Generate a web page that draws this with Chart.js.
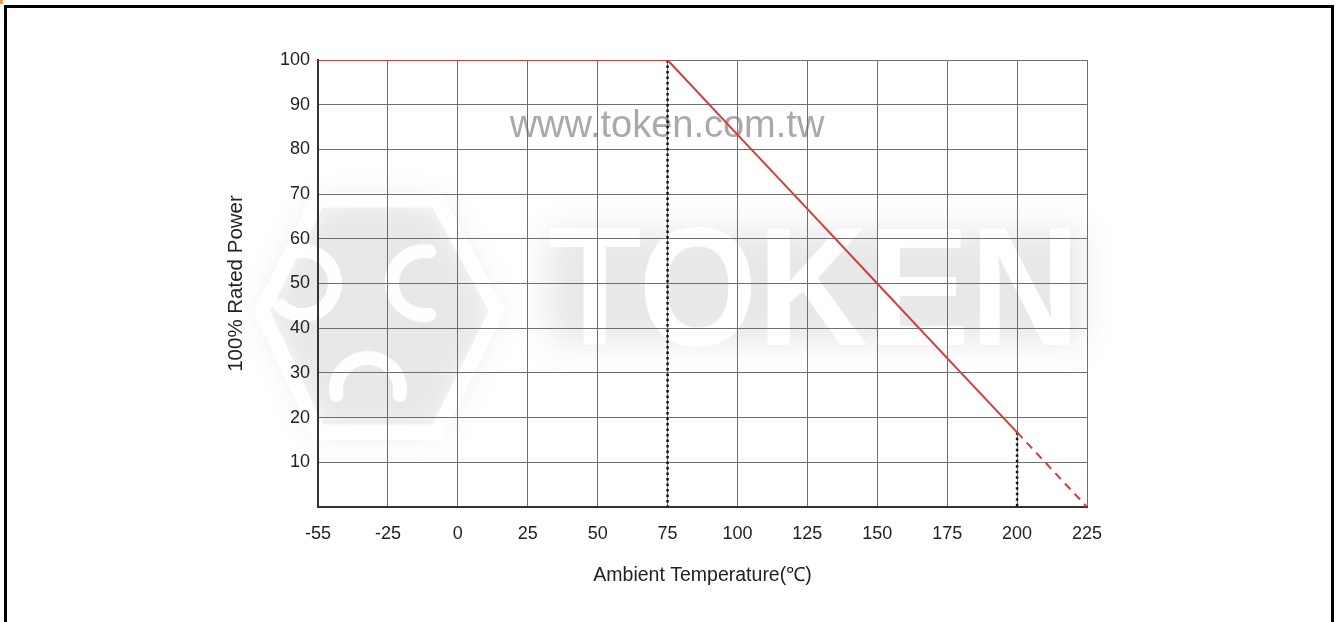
<!DOCTYPE html>
<html>
<head>
<meta charset="utf-8">
<script src="https://cdn.jsdelivr.net/npm/chart.js@4/dist/chart.umd.min.js"></script>
<style>
  html, body { margin: 0; padding: 0; background: #fff; }
  #wrap { position: relative; width: 1338px; height: 622px; overflow: hidden; }
  #frame { position: absolute; left: 4px; top: 5px; width: 1324px; height: 700px;
           border-left: 3px solid #000; border-top: 3px solid #000; border-right: 3px solid #000; }
  #corner { position: absolute; left: 0; top: 0; width: 3px; height: 4px; background: #f39a3a; }
  canvas { position: absolute; left: 0; top: 0; }
</style>
</head>
<body>
<div id="wrap">
  <canvas id="c" width="1338" height="622"></canvas>
  <div id="frame"></div>
  <div id="corner"></div>
</div>
<script>
// ---- data ----
const temperatures = ['-55', '-25', '0', '25', '50', '75', '100', '125', '150', '175', '200', '225'];
const ratedPower   = [100, 100, 100, 100, 100, 100, 83.3, 66.7, 50, 33.3, 16.7, 0];
const dashedFromTemp = '200';          // beyond this point the curve is dashed
const dropLineTemps  = ['75', '200'];  // dotted vertical guide lines
const yTicks = [10, 20, 30, 40, 50, 60, 70, 80, 90, 100];
const xTitle = 'Ambient Temperature(\u2103)';
const yTitle = '100% Rated Power';
const watermarkUrl = 'www.token.com.tw';
const watermarkWord = 'TOKEN';

const FONT = "'Liberation Sans', Arial, Helvetica, sans-serif";
const dashIdx = temperatures.indexOf(dashedFromTemp);

const dropDatasets = dropLineTemps.map(t => ({
  data: [{ x: t, y: ratedPower[temperatures.indexOf(t)] }, { x: t, y: 0 }],
  borderColor: '#111',
  borderWidth: 2.5,
  borderDash: [2.5, 3],
  pointRadius: 0,
  fill: false,
  order: 2
}));

const watermark = {
  id: 'watermark',
  beforeDraw(chart) {
    const ctx = chart.ctx;
    ctx.save();
    // soft grey band behind TOKEN letters
    ctx.filter = 'blur(16px)';
    ctx.fillStyle = 'rgba(0,0,0,0.09)';
    ctx.fillRect(548, 230, 535, 112);
    // hexagon logo shadow
    const hex = [[262, 311], [318, 200], [437, 200], [497, 311], [437, 432], [318, 432]];
    ctx.beginPath();
    hex.forEach((p, i) => i ? ctx.lineTo(p[0], p[1]) : ctx.moveTo(p[0], p[1]));
    ctx.closePath();
    ctx.fill();
    ctx.filter = 'none';
    // white hexagon outline
    ctx.strokeStyle = 'rgba(255,255,255,0.95)';
    ctx.lineWidth = 15;
    ctx.lineJoin = 'miter';
    ctx.beginPath();
    hex.forEach((p, i) => i ? ctx.lineTo(p[0], p[1]) : ctx.moveTo(p[0], p[1]));
    ctx.closePath();
    ctx.stroke();
    // crescents
    ctx.lineWidth = 14;
    ctx.lineCap = 'round';
    ctx.beginPath(); ctx.arc(303, 283, 32, -Math.PI * 0.55, Math.PI * 0.75); ctx.stroke();
    ctx.beginPath(); ctx.arc(424, 283, 32, Math.PI * 0.45, Math.PI * 1.55); ctx.stroke();
    ctx.beginPath(); ctx.arc(368, 390, 32, Math.PI * 0.95, Math.PI * 2.05); ctx.stroke();
    // TOKEN letters
    ctx.fillStyle = 'rgba(255,255,255,0.97)';
    ctx.font = 'bold 168px ' + FONT;
    ctx.textBaseline = 'alphabetic';
    const w = ctx.measureText(watermarkWord).width;
    ctx.translate(548, 345);
    ctx.scale(532 / w, 1);
    ctx.fillText(watermarkWord, 0, 0);
    ctx.restore();
    // url text
    ctx.save();
    ctx.fillStyle = '#a9a9a9';
    ctx.font = '38px ' + FONT;
    ctx.textAlign = 'center';
    ctx.textBaseline = 'alphabetic';
    ctx.fillText(watermarkUrl, 667, 137);
    ctx.restore();
  }
};

new Chart(document.getElementById('c'), {
  type: 'line',
  data: {
    labels: temperatures,
    datasets: [{
      data: ratedPower,
      borderColor: '#d23c3c',
      borderWidth: 2,
      pointRadius: 0,
      fill: false,
      tension: 0,
      order: 1,
      segment: {
        borderDash: c => (c.p0DataIndex >= dashIdx ? [8, 6] : undefined)
      }
    }, ...dropDatasets]
  },
  options: {
    responsive: false,
    animation: false,
    devicePixelRatio: 1,
    layout: { padding: { left: 215, top: 60, right: 251, bottom: 30 } },
    plugins: { legend: { display: false }, tooltip: { enabled: false } },
    scales: {
      x: {
        type: 'category',
        offset: false,
        afterFit(s) { s.height = 85; },
        grid: { color: '#6f6f6f', lineWidth: 1, drawTicks: false },
        border: { color: '#333', width: 2 },
        ticks: { color: '#222', font: { family: FONT, size: 18 }, padding: 16, maxRotation: 0, autoSkip: false },
        title: { display: true, text: xTitle, color: '#222', font: { family: FONT, size: 19.5 }, padding: { bottom: 5, top: 0 } }
      },
      y: {
        min: 0, max: 100,
        afterFit(s) { s.width = 103; },
        afterBuildTicks(s) { s.ticks = [{ value: 0 }].concat(yTicks.map(v => ({ value: v }))); },
        grid: { color: '#6f6f6f', lineWidth: 1, drawTicks: false },
        border: { color: '#333', width: 2 },
        ticks: { color: '#222', font: { family: FONT, size: 18 }, padding: 8,
                 callback: v => (yTicks.includes(v) ? String(v) : '') },
        title: { display: true, text: yTitle, color: '#222', font: { family: FONT, size: 20.5 }, padding: { top: 9, bottom: 0 } }
      }
    }
  },
  plugins: [watermark]
});
</script>
</body>
</html>
